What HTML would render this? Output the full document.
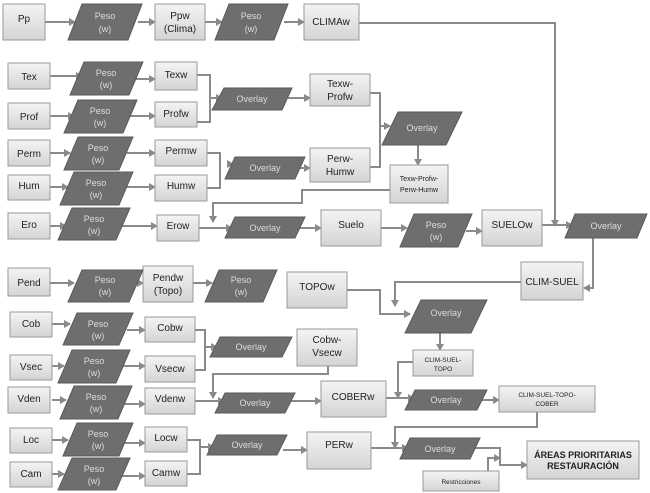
<!DOCTYPE html>
<html><head><meta charset="utf-8"><style>
html,body{margin:0;padding:0;background:#fff;width:650px;height:493px;overflow:hidden}
svg text{font-family:"Liberation Sans",sans-serif;text-anchor:middle}
.b{fill:url(#g);stroke:#9a9a9a;stroke-width:1}
.p{fill:#6e6e6e;stroke:#5a5a5a;stroke-width:1}
.bt{fill:#222;font-size:10px}
.pt{fill:#ddd;font-size:9px}
.l{fill:none;stroke:#8a8a8a;stroke-width:2}
</style></head><body>
<svg width="650" height="493" viewBox="0 0 650 493" xmlns="http://www.w3.org/2000/svg">
<defs>
<linearGradient id="g" x1="0" y1="0" x2="0" y2="1"><stop offset="0" stop-color="#f4f4f4"/><stop offset="1" stop-color="#d4d4d4"/></linearGradient>
<marker id="a" markerWidth="8" markerHeight="8" refX="6" refY="4" orient="auto" markerUnits="userSpaceOnUse"><path d="M0,0 L7,4 L0,8 z" fill="#8a8a8a"/></marker>
</defs>

<!-- connectors -->
<g class="l" marker-end="url(#a)">
<path d="M45,22 H75"/><path d="M138,22 H155"/><path d="M205,22 H222"/><path d="M284,22 H304"/>
<path d="M359,23 H555 V226"/>
<path d="M50,76 H82"/><path d="M135,79 H155"/>
<path d="M50,116 H74"/><path d="M127,116 H155"/>
<path d="M210,98 H222"/><path d="M288,98 H310"/>
<path d="M50,153 H70"/><path d="M127,153 H155"/>
<path d="M50,187 H68"/><path d="M125,187 H155"/>
<path d="M227,164 H233"/><path d="M297,168 H310"/>
<path d="M380,126 H390"/><path d="M418,145 V165"/>
<path d="M390,190 H302 V203 H213 V222"/>
<path d="M50,226 H66"/><path d="M122,226 H157"/>
<path d="M199,228 H232"/><path d="M300,228 H321"/><path d="M381,228 H407"/><path d="M466,231 H482"/>
<path d="M542,225 H572"/>
<path d="M593,238 V288 H584"/>
<path d="M521,282 H395 V306"/>
<path d="M347,290 H380 V314 H410"/>
<path d="M440,333 V350"/>
<path d="M50,283 H74"/><path d="M135,283 H143"/><path d="M193,283 H212"/>
<path d="M52,324 H70"/><path d="M127,330 H145"/>
<path d="M52,366 H64"/><path d="M122,366 H145"/>
<path d="M52,400 H66"/><path d="M124,404 H145"/>
<path d="M205,347 H217"/>
<path d="M328,366 V374 H213 V398"/>
<path d="M195,401 H224"/><path d="M290,401 H321"/>
<path d="M413,362 H398 V398"/>
<path d="M386,398 H414"/><path d="M480,400 H499"/>
<path d="M537,412 V427 H395 V448"/>
<path d="M52,440 H68"/><path d="M125,443 H145"/>
<path d="M52,474 H64"/><path d="M122,476 H145"/>
<path d="M200,447 H214"/><path d="M283,450 H307"/>
<path d="M371,448 H408"/>
<path d="M475,448 H500 V465 H527"/>
<path d="M478,472 H488 V458 H500"/>
</g>
<g class="l">
<path d="M197,75 H210 V122 H197"/>
<path d="M207,153 H220 V188 H207"/>
<path d="M370,93 H380 V167 H370"/>
<path d="M195,330 H205 V370 H195"/>
<path d="M187,440 H200 V474 H187"/>
</g>

<!-- boxes -->
<g>
<rect class="b" x="3" y="4" width="42" height="36"/><text class="bt" x="24" y="22">Pp</text>
<rect class="b" x="155" y="4" width="50" height="36"/><text class="bt" x="180" y="19">Ppw</text><text class="bt" x="180" y="32">(Clima)</text>
<rect class="b" x="304" y="4" width="55" height="36"/><text class="bt" x="331" y="25">CLIMAw</text>
<rect class="b" x="8" y="63" width="42" height="26"/><text class="bt" x="29" y="80">Tex</text>
<rect class="b" x="155" y="62" width="42" height="28"/><text class="bt" x="176" y="78">Texw</text>
<rect class="b" x="310" y="74" width="60" height="32"/><text class="bt" x="340" y="87">Texw-</text><text class="bt" x="340" y="100">Profw</text>
<rect class="b" x="8" y="103" width="42" height="26"/><text class="bt" x="29" y="120">Prof</text>
<rect class="b" x="155" y="102" width="42" height="25"/><text class="bt" x="176" y="117">Profw</text>
<rect class="b" x="8" y="140" width="42" height="26"/><text class="bt" x="29" y="157">Perm</text>
<rect class="b" x="155" y="140" width="52" height="26"/><text class="bt" x="181" y="154">Permw</text>
<rect class="b" x="310" y="148" width="60" height="34"/><text class="bt" x="340" y="162">Perw-</text><text class="bt" x="340" y="175">Humw</text>
<rect class="b" x="8" y="175" width="42" height="25"/><text class="bt" x="29" y="189">Hum</text>
<rect class="b" x="155" y="175" width="52" height="26"/><text class="bt" x="181" y="189">Humw</text>
<rect class="b" x="390" y="165" width="58" height="38"/><text class="bt" x="419" y="181" style="font-size:7px">Texw-Profw-</text><text class="bt" x="419" y="192" style="font-size:7px">Perw-Humw</text>
<rect class="b" x="8" y="213" width="42" height="26"/><text class="bt" x="29" y="228">Ero</text>
<rect class="b" x="157" y="215" width="42" height="26"/><text class="bt" x="178" y="229">Erow</text>
<rect class="b" x="321" y="210" width="60" height="36"/><text class="bt" x="351" y="228">Suelo</text>
<rect class="b" x="482" y="210" width="60" height="36"/><text class="bt" x="512" y="228">SUELOw</text>
<rect class="b" x="521" y="262" width="62" height="38"/><text class="bt" x="552" y="285">CLIM-SUEL</text>
<rect class="b" x="8" y="268" width="42" height="28"/><text class="bt" x="29" y="286">Pend</text>
<rect class="b" x="143" y="266" width="50" height="36"/><text class="bt" x="168" y="281">Pendw</text><text class="bt" x="168" y="294">(Topo)</text>
<rect class="b" x="287" y="272" width="60" height="36"/><text class="bt" x="317" y="290">TOPOw</text>
<rect class="b" x="413" y="350" width="60" height="26"/><text class="bt" x="443" y="362" style="font-size:6.5px">CLIM-SUEL-</text><text class="bt" x="443" y="371" style="font-size:6.5px">TOPO</text>
<rect class="b" x="10" y="312" width="42" height="25"/><text class="bt" x="31" y="327">Cob</text>
<rect class="b" x="145" y="317" width="50" height="25"/><text class="bt" x="170" y="331">Cobw</text>
<rect class="b" x="297" y="329" width="60" height="37"/><text class="bt" x="327" y="343">Cobw-</text><text class="bt" x="327" y="356">Vsecw</text>
<rect class="b" x="10" y="355" width="42" height="25"/><text class="bt" x="31" y="370">Vsec</text>
<rect class="b" x="145" y="356" width="50" height="26"/><text class="bt" x="170" y="372">Vsecw</text>
<rect class="b" x="8" y="387" width="42" height="26"/><text class="bt" x="29" y="402">Vden</text>
<rect class="b" x="145" y="388" width="50" height="26"/><text class="bt" x="170" y="402">Vdenw</text>
<rect class="b" x="321" y="381" width="65" height="36"/><text class="bt" x="353" y="400">COBERw</text>
<rect class="b" x="499" y="386" width="96" height="26"/><text class="bt" x="547" y="397" style="font-size:6.5px">CLIM-SUEL-TOPO-</text><text class="bt" x="547" y="406" style="font-size:6.5px">COBER</text>
<rect class="b" x="10" y="428" width="42" height="25"/><text class="bt" x="31" y="443">Loc</text>
<rect class="b" x="145" y="427" width="42" height="25"/><text class="bt" x="166" y="441">Locw</text>
<rect class="b" x="307" y="432" width="64" height="37"/><text class="bt" x="339" y="448">PERw</text>
<rect class="b" x="527" y="441" width="112" height="38"/><text class="bt" x="583" y="458" style="font-weight:bold;font-size:9px">ÁREAS PRIORITARIAS</text><text class="bt" x="583" y="469" style="font-weight:bold;font-size:9px">RESTAURACIÓN</text>
<rect class="b" x="423" y="471" width="76" height="20"/><text class="bt" x="461" y="484" style="font-size:6.5px">Restricciones</text>
<rect class="b" x="10" y="462" width="42" height="25"/><text class="bt" x="31" y="477">Cam</text>
<rect class="b" x="145" y="461" width="42" height="25"/><text class="bt" x="166" y="476">Camw</text>
</g>

<!-- parallelograms -->
<g>
<polygon class="p" points="82,4 142,4 128,40 68,40"/><text class="pt" x="105" y="19">Peso</text><text class="pt" x="105" y="32">(w)</text>
<polygon class="p" points="229,4 288,4 274,40 215,40"/><text class="pt" x="251" y="19">Peso</text><text class="pt" x="251" y="32">(w)</text>
<polygon class="p" points="84,62 143,62 129,95 70,95"/><text class="pt" x="106" y="76">Peso</text><text class="pt" x="106" y="88">(w)</text>
<polygon class="p" points="78,100 137,100 123,133 64,133"/><text class="pt" x="100" y="114">Peso</text><text class="pt" x="100" y="126">(w)</text>
<polygon class="p" points="78,137 133,137 119,170 64,170"/><text class="pt" x="98" y="151">Peso</text><text class="pt" x="98" y="163">(w)</text>
<polygon class="p" points="74,172 133,172 119,205 60,205"/><text class="pt" x="96" y="186">Peso</text><text class="pt" x="96" y="198">(w)</text>
<polygon class="p" points="72,208 130,208 116,240 58,240"/><text class="pt" x="94" y="222">Peso</text><text class="pt" x="94" y="234">(w)</text>
<polygon class="p" points="224,88 292,88 282,110 212,110"/><text class="pt" x="252" y="102">Overlay</text>
<polygon class="p" points="235,157 305,157 295,179 225,179"/><text class="pt" x="265" y="171">Overlay</text>
<polygon class="p" points="398,112 462,112 446,145 382,145"/><text class="pt" x="422" y="131">Overlay</text>
<polygon class="p" points="235,217 305,217 295,238 225,238"/><text class="pt" x="265" y="231">Overlay</text>
<polygon class="p" points="414,214 472,214 458,247 400,247"/><text class="pt" x="436" y="228">Peso</text><text class="pt" x="436" y="240">(w)</text>
<polygon class="p" points="575,214 647,214 637,238 565,238"/><text class="pt" x="606" y="229">Overlay</text>
<polygon class="p" points="82,270 143,270 129,302 68,302"/><text class="pt" x="105" y="283">Peso</text><text class="pt" x="105" y="295">(w)</text>
<polygon class="p" points="219,270 277,270 263,302 205,302"/><text class="pt" x="241" y="283">Peso</text><text class="pt" x="241" y="295">(w)</text>
<polygon class="p" points="421,300 487,300 471,333 405,333"/><text class="pt" x="446" y="316">Overlay</text>
<polygon class="p" points="77,313 133,313 119,345 63,345"/><text class="pt" x="98" y="327">Peso</text><text class="pt" x="98" y="339">(w)</text>
<polygon class="p" points="72,350 130,350 116,383 58,383"/><text class="pt" x="94" y="364">Peso</text><text class="pt" x="94" y="376">(w)</text>
<polygon class="p" points="74,386 132,386 118,419 60,419"/><text class="pt" x="96" y="400">Peso</text><text class="pt" x="96" y="412">(w)</text>
<polygon class="p" points="220,337 292,337 282,357 210,357"/><text class="pt" x="251" y="350">Overlay</text>
<polygon class="p" points="225,393 295,393 285,413 215,413"/><text class="pt" x="255" y="406">Overlay</text>
<polygon class="p" points="415,390 487,390 477,410 405,410"/><text class="pt" x="446" y="403">Overlay</text>
<polygon class="p" points="77,423 133,423 119,456 63,456"/><text class="pt" x="98" y="437">Peso</text><text class="pt" x="98" y="449">(w)</text>
<polygon class="p" points="72,458 130,458 116,490 58,490"/><text class="pt" x="94" y="472">Peso</text><text class="pt" x="94" y="484">(w)</text>
<polygon class="p" points="217,435 287,435 277,455 207,455"/><text class="pt" x="247" y="448">Overlay</text>
<polygon class="p" points="410,438 480,438 470,459 400,459"/><text class="pt" x="440" y="452">Overlay</text>
</g>
</svg>
</body></html>
